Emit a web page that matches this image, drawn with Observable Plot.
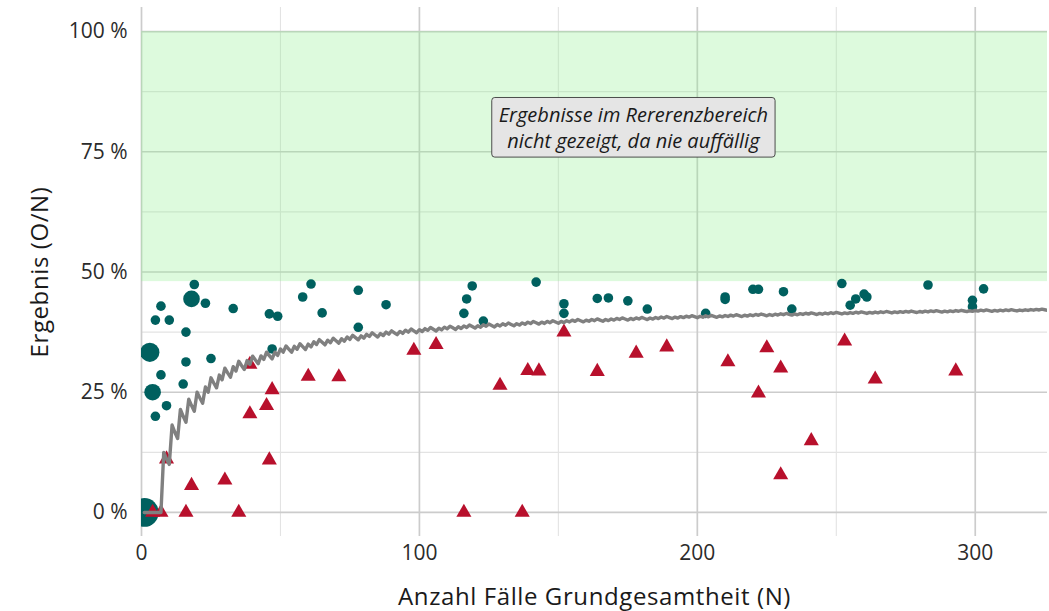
<!DOCTYPE html>
<html>
<head>
<meta charset="utf-8">
<script src="https://cdn.jsdelivr.net/npm/d3@7"></script>
<script src="https://cdn.jsdelivr.net/npm/@observablehq/plot@0.6"></script>
<style>
  html, body { margin: 0; padding: 0; background: #ffffff; }
  #chart svg { display: block; }
</style>
</head>
<body>
<div id="chart"></div>
<script>
// ---- Data ----
// Results not flagged (teal circles): N, result O/N, number of overlapping cases
const okN     = [1, 3, 4, 5, 5, 7, 7, 9, 10, 15, 16, 16, 18, 19, 23, 25, 33, 46, 47, 49, 58, 61, 65, 78, 78, 88,
                 116, 117, 119, 123, 142, 152, 152, 164, 168, 175, 182, 203, 210, 210, 220, 222, 231, 234,
                 252, 255, 257, 260, 261, 283, 299, 299, 303];
const okValue = [0.000, 0.333, 0.250, 0.400, 0.200, 0.429, 0.286, 0.222, 0.400, 0.267, 0.375, 0.313, 0.444, 0.474,
                 0.435, 0.320, 0.424, 0.413, 0.340, 0.408, 0.448, 0.475, 0.415, 0.462, 0.385, 0.432,
                 0.414, 0.444, 0.471, 0.398, 0.479, 0.434, 0.414, 0.445, 0.446, 0.440, 0.423, 0.414, 0.448, 0.443,
                 0.464, 0.464, 0.459, 0.423, 0.476, 0.431, 0.444, 0.454, 0.448, 0.473, 0.441, 0.428, 0.465];
const okCount = [9, 4, 3, 1, 1, 1, 1, 1, 1, 1, 1, 1, 3, 1, 1, 1, 1, 1, 1, 1, 1, 1, 1, 1, 1, 1,
                 1, 1, 1, 1, 1, 1, 1, 1, 1, 1, 1, 1, 1, 1, 1, 1, 1, 1, 1, 1, 1, 1, 1, 1, 1, 1, 1];

// Flagged results (red triangles): N, result O/N
const flagN     = [4, 7, 9, 16, 18, 30, 35, 39, 39, 45, 46, 47, 60, 71, 98, 106, 116, 129, 137, 139, 143,
                   152, 164, 178, 189, 211, 222, 225, 230, 230, 241, 253, 264, 293];
const flagValue = [0.000, 0.000, 0.111, 0.000, 0.056, 0.067, 0.000, 0.205, 0.308, 0.222, 0.109, 0.255, 0.283,
                   0.282, 0.337, 0.349, 0.000, 0.264, 0.000, 0.295, 0.294, 0.375, 0.293, 0.331, 0.344,
                   0.313, 0.248, 0.342, 0.300, 0.078, 0.149, 0.356, 0.277, 0.294];

// Threshold line: N values at which the threshold count rises by one (count/N is drawn)
const limitSteps = [8, 11, 14, 17, 20, 23, 25, 28, 30, 33, 35, 38, 40, 43, 45, 48, 50, 52, 55, 57, 60, 62, 64,
  67, 69, 72, 74, 76, 79, 81, 83, 86, 88, 90, 93, 95, 97, 100, 102, 104, 107, 109, 111, 114, 116, 118, 121,
  123, 125, 128, 130, 132, 135, 137, 139, 141, 144, 146, 148, 151, 153, 155, 157, 160, 162, 164, 167, 169,
  171, 173, 176, 178, 180, 183, 185, 187, 189, 192, 194, 196, 198, 201, 203, 205, 208, 210, 212, 214, 217,
  219, 221, 223, 226, 228, 230, 232, 235, 237, 239, 241, 244, 246, 248, 250, 253, 255, 257, 259, 262, 264,
  266, 268, 271, 273, 275, 277, 280, 282, 284, 286, 289, 291, 293, 295, 298, 300, 302, 304, 307, 309, 311,
  313, 316, 318, 320, 322, 324];
const limitMinN = 1;
const limitMaxN = 326;

// Reference range (shaded)
const refRange = [0.48, 1.0];

// Axes
const xDomain = [0, 326];
const yDomain = [-0.05, 1.05];
const xTicks = [0, 100, 200, 300];
const xMinorTicks = [50, 150, 250];
const yTicks = [0, 0.25, 0.5, 0.75, 1];
const yMinorTicks = [0.125, 0.375, 0.625, 0.875];
const xTitle = "Anzahl Fälle Grundgesamtheit (N)";
const yTitle = "Ergebnis (O/N)";
const noteLines = ["Ergebnisse im Rererenzbereich", "nicht gezeigt, da nie auffällig"];
const notePos = {N: 177, value: 0.803};

// ---- Tables for the library ----
const okData = okN.map((N, i) => ({N, value: okValue[i], n: okCount[i]}));
const flagData = flagN.map((N, i) => ({N, value: flagValue[i]}));
const limitData = d3.range(limitMinN, limitMaxN + 1).map(N => {
  const q = limitSteps.filter(s => s <= N).length;
  return {N, value: q / N};
});

const teal = "#00605f";
const red = "#b8102c";
const font = "'Open Sans', sans-serif";

const chart = Plot.plot({
  width: 1049,
  height: 611,
  marginLeft: 141,
  marginRight: 2,
  marginTop: 7,
  marginBottom: 75,
  style: {fontFamily: font, fontSize: "21px", color: "#2b2b2b", background: "#ffffff"},
  x: {domain: xDomain},
  y: {domain: yDomain},
  r: {type: "sqrt", domain: [0, 9], range: [0, 14.4]},
  marks: [
    Plot.gridX(xMinorTicks, {stroke: "#e3e3e3", strokeOpacity: 1, strokeWidth: 1.1}),
    Plot.gridY(yMinorTicks, {stroke: "#e3e3e3", strokeOpacity: 1, strokeWidth: 1.1}),
    Plot.gridX(xTicks, {stroke: "#cccccc", strokeOpacity: 1, strokeWidth: 1.7}),
    Plot.gridY(yTicks, {stroke: "#cccccc", strokeOpacity: 1, strokeWidth: 1.7}),
    Plot.rect([refRange], {y1: d => d[0], y2: d => d[1], fill: "#90ee90", fillOpacity: 0.3}),
    Plot.dot(okData, {x: "N", y: "value", r: "n", fill: teal, stroke: "none", clip: true}),
    Plot.dot(flagData, {x: "N", y: "value", symbol: "triangle", r: 5.6, fill: red, stroke: "none", clip: true}),
    Plot.line(limitData, {x: "N", y: "value", stroke: "#808080", strokeWidth: 3.4, clip: true}),
    Plot.axisX(xTicks, {tickSize: 0, tickPadding: 9, label: null, fontSize: 21}),
    Plot.axisY(yTicks, {tickSize: 0, tickPadding: 14, label: null, fontSize: 21,
      tickFormat: d => `${Math.round(d * 100)} %`}),
    Plot.text([yTitle], {text: d => d, frameAnchor: "left", dx: -101, rotate: -90,
      textAnchor: "middle", lineAnchor: "middle", fontSize: 24, fill: "#1a1a1a"}),
    Plot.text([xTitle], {text: d => d, frameAnchor: "bottom", dy: 61,
      textAnchor: "middle", lineAnchor: "middle", fontSize: 24, fill: "#1a1a1a"}),
    Plot.text([notePos], {x: "N", y: "value", text: () => noteLines.join("\n"), fontStyle: "italic",
      fontSize: 20, lineHeight: 1.33, fill: "#1a1a1a"})
  ]
});

document.getElementById("chart").appendChild(chart);

// Slightly wider letter spacing for the axis titles
chart.querySelectorAll("text").forEach(t => {
  if (t.textContent === xTitle || t.textContent === yTitle) t.style.letterSpacing = "0.6px";
});

// Label box behind the note text
const noteG = chart.querySelector('g[font-style="italic"]');
if (noteG) {
  const t = noteG.querySelector("text");
  const bb = t.getBBox();
  const ns = "http://www.w3.org/2000/svg";
  const box = document.createElementNS(ns, "rect");
  const padX = 7, padY = 3;
  box.setAttribute("x", bb.x - padX);
  box.setAttribute("y", bb.y - padY);
  box.setAttribute("width", bb.width + 2 * padX);
  box.setAttribute("height", bb.height + 2 * padY);
  const tr = t.getAttribute("transform");
  if (tr) box.setAttribute("transform", tr);
  box.setAttribute("rx", 3);
  box.setAttribute("fill", "#e5e5e5");
  box.setAttribute("stroke", "#3a3a3a");
  box.setAttribute("stroke-width", 0.9);
  noteG.insertBefore(box, t);
}
</script>
</body>
</html>
